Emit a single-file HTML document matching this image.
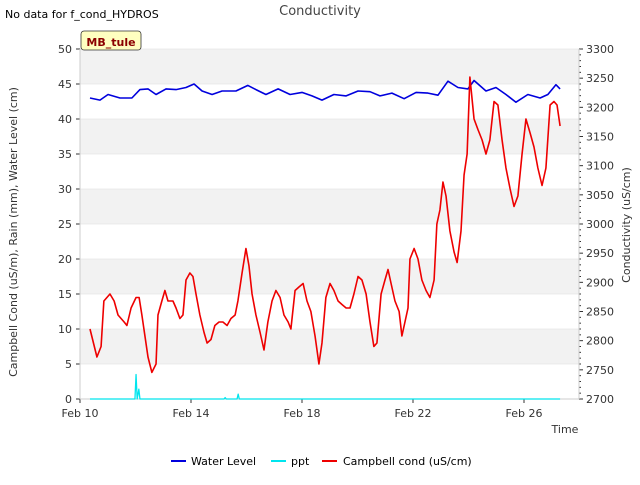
<!DOCTYPE html>
<html><head><meta charset="utf-8"><style>
body{margin:0;background:#fff;font-family:"Liberation Sans","DejaVu Sans",sans-serif}
svg text{font-family:"DejaVu Sans","Liberation Sans",sans-serif}
</style></head><body>
<svg id="c" width="640" height="480" viewBox="0 0 640 480" xmlns="http://www.w3.org/2000/svg">
<text x="5" y="18" font-size="11">No data for f_cond_HYDROS</text>
<text x="320" y="15" font-size="13" text-anchor="middle" fill="#444">Conductivity</text>
<g id="plot"></g>
<rect x="81" y="31" width="60" height="19" rx="3" fill="#ffffc0" stroke="#333" stroke-width="0.8"/>
<text x="111" y="46" font-size="11" font-weight="bold" fill="#8b0000" text-anchor="middle">MB_tule</text>
<text transform="translate(17,232) rotate(-90)" font-size="11" text-anchor="middle" fill="#333">Campbell Cond (uS/m), Rain (mm), Water Level (cm)</text>
<text transform="translate(630,225) rotate(-90)" font-size="11" text-anchor="middle" fill="#333">Conductivity (uS/cm)</text>
<text x="565" y="433" font-size="11" text-anchor="middle" fill="#333">Time</text>
<g>
<line x1="171" y1="461" x2="186" y2="461" stroke="#0000dd" stroke-width="2"/>
<text x="191" y="465" font-size="11">Water Level</text>
<line x1="271" y1="461" x2="286" y2="461" stroke="#00e5ee" stroke-width="2"/>
<text x="291" y="465" font-size="11">ppt</text>
<line x1="322" y1="461" x2="337" y2="461" stroke="#ee0000" stroke-width="2"/>
<text x="343" y="465" font-size="11">Campbell cond (uS/cm)</text>
</g>
</svg>
<script>
const xTickLabels=["Feb 10","Feb 14","Feb 18","Feb 22","Feb 26"];
const xTickDays=[0,4,8,12,16];
const yLeftTicks=[0,5,10,15,20,25,30,35,40,45,50];
const yRightTicks=[2700,2750,2800,2850,2900,2950,3000,3050,3100,3150,3200,3250,3300];
const redDays=[0.36,0.61,0.76,0.86,1.08,1.23,1.37,1.59,1.69,1.84,2.02,2.13,2.23,2.34,2.45,2.59,2.74,2.81,2.95,3.06,3.17,3.35,3.46,3.60,3.71,3.82,3.96,4.07,4.18,4.32,4.47,4.58,4.72,4.86,5.01,5.15,5.30,5.44,5.59,5.69,5.84,5.98,6.09,6.20,6.34,6.49,6.63,6.77,6.92,7.06,7.21,7.35,7.50,7.60,7.75,7.89,8.04,8.18,8.32,8.47,8.61,8.72,8.86,9.01,9.15,9.30,9.44,9.59,9.73,9.87,10.02,10.16,10.31,10.45,10.59,10.70,10.85,10.99,11.10,11.21,11.35,11.50,11.60,11.71,11.82,11.89,12.04,12.18,12.32,12.47,12.61,12.76,12.86,12.97,13.08,13.19,13.33,13.48,13.59,13.73,13.84,13.95,14.05,14.20,14.34,14.49,14.63,14.77,14.92,15.06,15.21,15.35,15.50,15.64,15.78,15.93,16.07,16.22,16.36,16.50,16.65,16.79,16.94,17.08,17.19,17.30];
const redVals=[10,6,7.5,14,15,14,12,11,10.5,13,14.5,14.5,12,9,6,3.8,5,12,14,15.5,14,14,13,11.5,12,17,18,17.5,15,12,9.5,8,8.5,10.5,11,11,10.5,11.5,12,14,18,21.5,19,15,12,9.5,7,11,14,15.5,14.5,12,11,10,15.5,16,16.5,14,12.5,9,5,8,14.5,16.5,15.5,14,13.5,13,13,15,17.5,17,15,11,7.5,8,15,17,18.5,16.5,14,12.5,9,11,13,20,21.5,20,17,15.5,14.5,17,25,27,31,29,24,21,19.5,24,32,35,46,40,38.5,37,35,37,42.5,42,37,33,30,27.5,29,35,40,38,36,33,30.5,33,42,42.5,42,39];
const blueDays=[0.36,0.72,1.01,1.44,1.87,2.16,2.45,2.74,3.10,3.46,3.82,4.11,4.40,4.76,5.12,5.62,6.05,6.34,6.70,7.14,7.57,8.00,8.36,8.72,9.15,9.59,10.02,10.45,10.81,11.24,11.68,12.11,12.54,12.90,13.26,13.62,13.98,14.20,14.63,14.99,15.35,15.71,16.14,16.58,16.86,17.15,17.30];
const blueVals=[43,42.7,43.5,43,43,44.2,44.3,43.5,44.3,44.2,44.5,45,44,43.5,44,44,44.8,44.2,43.5,44.3,43.5,43.8,43.3,42.7,43.5,43.3,44,43.9,43.3,43.7,42.9,43.8,43.7,43.4,45.4,44.5,44.3,45.5,44,44.5,43.5,42.4,43.5,43,43.5,44.9,44.3];
const pptDays=[0.36,1.98,2.02,2.06,2.12,2.16,2.22,5.19,5.23,5.27,5.66,5.70,5.74,17.30];
const pptVals=[0,0,3.5,0,1.4,0,0,0,0.2,0,0,0.7,0,0];
const NS="http://www.w3.org/2000/svg";
const L=80,R=579,T=49,B=399;
const xs=d=>L+d*27.75, yl=v=>B-(v/50)*(B-T), yr=v=>B-((v-2700)/600)*(B-T);
const g=document.getElementById('plot');
function mk(t,a){const e=document.createElementNS(NS,t);for(const k in a)e.setAttribute(k,a[k]);g.appendChild(e);return e;}
mk('rect',{x:L,y:T,width:R-L,height:B-T,fill:'#fff'});
for(let i=0;i<yLeftTicks.length-1;i++){if(i%2===1){const b=mk('rect',{x:L,y:yl(yLeftTicks[i+1]),width:R-L,height:yl(yLeftTicks[i])-yl(yLeftTicks[i+1]),fill:'#f2f2f2'});

}}
yLeftTicks.forEach(v=>{mk('line',{x1:L,x2:R,y1:yl(v),y2:yl(v),stroke:'#ddd','stroke-width':0.6});
mk('line',{x1:L-4,x2:L,y1:yl(v),y2:yl(v),stroke:'#333'});
const t=mk('text',{x:L-8,y:yl(v)+4,'font-size':11,'text-anchor':'end',fill:'#333'});t.textContent=v;

});
for(let v=2700;v<=3300;v+=10){mk('line',{x1:R,x2:R+(v%50===0?4:2),y1:yr(v),y2:yr(v),stroke:'#333'});}
yRightTicks.forEach(v=>{const t=mk('text',{x:R+7,y:yr(v)+4,'font-size':11,fill:'#333'});t.textContent=v;

});
xTickDays.forEach((d,i)=>{mk('line',{x1:xs(d),x2:xs(d),y1:B,y2:B+4,stroke:'#333'});
const t=mk('text',{x:xs(d),y:B+18,'font-size':11,'text-anchor':'middle',fill:'#333'});t.textContent=xTickLabels[i];

});
mk('line',{x1:L,x2:L,y1:T,y2:B,stroke:'#ccc'});mk('line',{x1:R,x2:R,y1:T,y2:B,stroke:'#ccc'});mk('line',{x1:L,x2:R,y1:B,y2:B,stroke:'#ccc'});
function line(days,vals,col,name,w){const p=mk('polyline',{points:days.map((d,i)=>xs(d)+','+yl(vals[i])).join(' '),fill:'none',stroke:col,'stroke-width':w,'stroke-linejoin':'round'});

}
line(pptDays,pptVals,'#00e5ee','ppt-line',1.3);
line(blueDays,blueVals,'#0000dd','water-level-line',1.6);
line(redDays,redVals,'#ee0000','campbell-cond-line',1.6);
</script>
</body></html>
